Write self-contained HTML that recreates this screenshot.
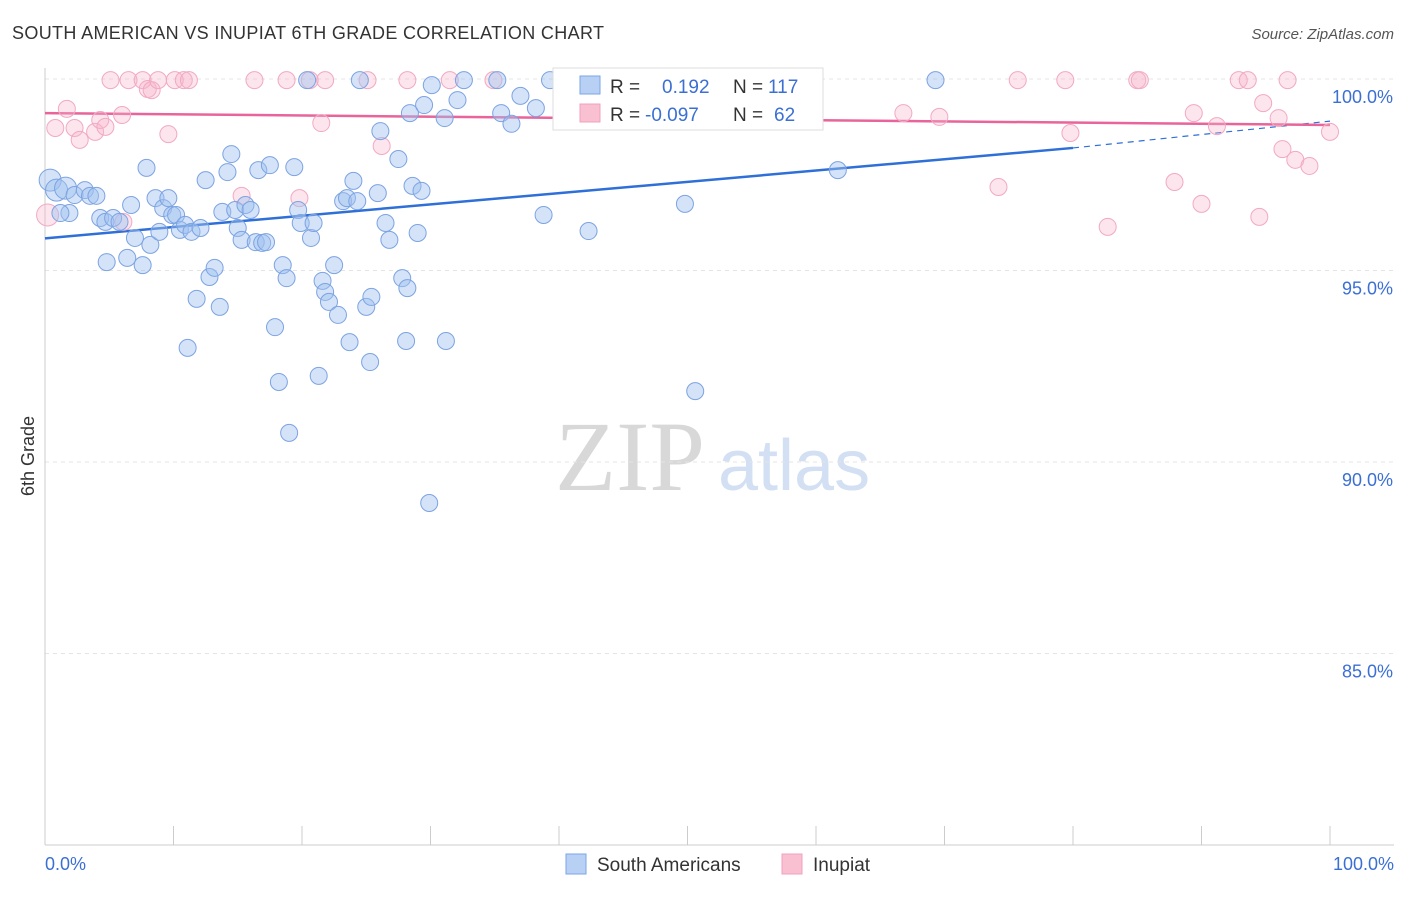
<!DOCTYPE html>
<html><head><meta charset="utf-8"><style>
body{margin:0;background:#fff;font-family:"Liberation Sans",sans-serif}
</style></head><body>
<svg id="chart" width="1406" height="892" font-family="Liberation Sans, sans-serif">
<text x="12" y="39" font-size="18" fill="#333" textLength="592">SOUTH AMERICAN VS INUPIAT 6TH GRADE CORRELATION CHART</text>
<text x="1394" y="39" font-size="15" fill="#555" font-style="italic" text-anchor="end">Source: ZipAtlas.com</text>
<text x="34" y="456" font-size="18" fill="#333" transform="rotate(-90 34 456)" text-anchor="middle">6th Grade</text>
<text x="555" y="490" font-size="100" fill="#d8d8d8" style="font-family:'Liberation Serif',serif">ZIP</text>
<text x="718" y="490" font-size="72" fill="#d3e0f3">atlas</text>
<g id="grid"></g><g id="axes"></g><g id="lines"></g><g id="pts"></g>
<g id="legend">
<rect x="553" y="68" width="270" height="62" fill="#fff" stroke="#ddd"/>
<rect x="580" y="76" width="20" height="18" fill="#b8d0f4" stroke="#7aa6e6"/>
<rect x="580" y="104" width="20" height="18" fill="#f8c0d0" stroke="#f0a0bc"/>
<text x="610" y="93" font-size="19" fill="#333">R = <tspan x="662" fill="#3b6fd4">0.192</tspan><tspan x="733" fill="#333">N = </tspan><tspan x="768" fill="#3b6fd4">117</tspan></text>
<text x="610" y="121" font-size="19" fill="#333">R = <tspan x="645" fill="#3b6fd4">-0.097</tspan><tspan x="733" fill="#333">N = </tspan><tspan x="774" fill="#3b6fd4">62</tspan></text>
</g>
<g>
<rect x="566" y="854" width="20" height="20" fill="#b8d0f4" stroke="#7aa6e6"/>
<text x="597" y="871" font-size="19" fill="#333">South Americans</text>
<rect x="782" y="854" width="20" height="20" fill="#f8c0d0" stroke="#f0a0bc"/>
<text x="813" y="871" font-size="19" fill="#333">Inupiat</text>
</g>
</svg>
<script>
const yTicks=[100,95,90,85];
const yTickLabels=["100.0%","95.0%","90.0%","85.0%"];
const xTicks=[0,10,20,30,40,50,60,70,80,90,100];
const xEndLabels=["0.0%","100.0%"];
const blueX=[0.4,0.9,1.6,1.9,2.3,3.1,3.5,4.0,4.3,4.7,4.8,5.3,5.8,6.4,6.7,7.0,7.6,7.9,8.2,8.6,8.9,9.2,9.6,9.9,10.2,10.5,10.9,11.1,11.4,11.8,12.1,12.5,12.8,13.2,13.6,13.8,14.2,14.5,14.8,15.0,15.3,15.6,16.0,16.4,16.6,16.9,17.2,17.5,17.9,18.2,18.5,18.8,19.0,19.4,19.7,19.9,20.4,20.7,20.9,21.3,21.6,21.8,22.1,22.5,22.8,23.2,23.5,23.7,24.0,24.3,24.5,25.0,25.3,25.4,25.9,26.1,26.5,26.8,27.5,27.8,28.1,28.2,28.4,28.6,29.0,29.3,29.5,29.9,30.1,31.1,31.2,32.1,32.6,35.2,35.5,36.3,37.0,38.2,38.8,39.3,42.3,49.8,50.6,61.7,69.3,1.2];
const blueY=[97.36,97.10,97.15,96.50,96.97,97.10,96.95,96.95,96.37,96.27,95.22,96.37,96.27,95.33,96.71,95.85,95.14,97.68,95.67,96.89,96.01,96.63,96.89,96.45,96.45,96.06,96.19,92.98,96.01,94.26,96.11,97.36,94.83,95.07,94.05,96.53,97.57,98.04,96.58,96.11,95.80,96.71,96.58,95.74,97.62,95.72,95.74,97.75,93.52,92.09,95.14,94.80,90.76,97.70,96.58,96.24,99.97,95.85,96.24,92.25,94.73,94.44,94.18,95.14,93.84,96.81,96.89,93.13,97.34,96.81,99.97,94.05,92.61,94.31,97.02,98.64,96.24,95.80,97.91,94.80,93.16,94.54,99.11,97.21,95.98,97.08,99.32,88.93,99.84,98.98,93.16,99.45,99.97,99.97,99.11,98.83,99.56,99.24,96.45,99.97,96.03,96.74,91.85,97.62,99.97,96.50];
const pinkX=[0.2,0.8,1.7,2.3,2.7,3.9,4.3,4.7,5.1,6.0,6.1,6.5,7.6,8.0,8.3,8.8,9.6,10.1,10.8,11.2,15.3,16.3,18.8,19.8,20.6,21.5,21.8,25.1,26.2,28.2,31.5,34.9,46.9,52.5,58.5,66.8,69.6,74.2,75.7,79.4,79.8,82.7,85.0,85.2,87.9,89.4,90.0,91.2,92.9,93.6,94.5,94.8,96.0,96.3,96.7,97.3,98.4,100];
const pinkY=[96.45,98.72,99.22,98.72,98.41,98.62,98.93,98.75,99.97,99.06,96.27,99.97,99.97,99.74,99.71,99.97,98.56,99.97,99.97,99.97,96.95,99.97,99.97,96.89,99.97,98.85,99.97,99.97,98.25,99.97,99.97,99.97,99.97,99.97,99.97,99.11,99.01,97.18,99.97,99.97,98.59,96.14,99.97,99.97,97.31,99.11,96.74,98.77,99.97,99.97,96.40,99.37,98.98,98.17,99.97,97.89,97.73,98.62];
const blueTrend=[[0,95.84],[80,98.2]];
const blueTrendExt=[[80,98.2],[100,98.9]];
const pinkTrend=[[0,99.11],[100,98.8]];
const X=v=>45+v*12.85, Y=v=>79+(100-v)*38.3;
const NS="http://www.w3.org/2000/svg";
function mk(tag,attrs,parent){const e=document.createElementNS(NS,tag);for(const k in attrs)e.setAttribute(k,attrs[k]);document.getElementById(parent).appendChild(e);return e;}
yTicks.forEach((t,i)=>{
 const l=mk('line',{x1:45,x2:1394,y1:Y(t),y2:Y(t),stroke:'#e4e4e4','stroke-dasharray':'4,4'},'grid');
 
 
 const tx=mk('text',{x:1393,y:Y(t)+24,'font-size':18,fill:'#3b6fd4','text-anchor':'end'},'grid');
 tx.textContent=yTickLabels[i];
 
 
});
const ax=mk('line',{x1:45,x2:45,y1:68,y2:845,stroke:'#ccc'},'axes');


const bx=mk('line',{x1:45,x2:1394,y1:845,y2:845,stroke:'#ccc'},'axes');


xTicks.forEach(t=>{
 const l=mk('line',{x1:X(t),x2:X(t),y1:826,y2:845,stroke:'#ccc'},'axes');
 
 
});
[[0,'start',45],[100,'end',1394]].forEach((a,i)=>{
 const tx=mk('text',{x:a[2],y:870,'font-size':18,fill:'#3b6fd4','text-anchor':a[1]},'axes');
 tx.textContent=xEndLabels[i];
 
 
});
function drawPts(xs,ys,fill,stroke,name){
 xs.forEach((x,i)=>{
  const big=(name==='south-american-point'&&i<3)||(name==='inupiat-point'&&i===0);
  const c=mk('circle',{cx:X(x),cy:Y(ys[i]),r:big?11:8.5,fill:fill,stroke:stroke,'stroke-width':1},'pts');
  
  
 });
}
drawPts(pinkX,pinkY,'rgba(246,180,202,0.35)','#f2a9c3','inupiat-point');
drawPts(blueX,blueY,'rgba(160,192,240,0.45)','#7ca3e2','south-american-point');
function line(seg,color,dash,name){
 const l=mk('line',{x1:X(seg[0][0]),y1:Y(seg[0][1]),x2:X(seg[1][0]),y2:Y(seg[1][1]),stroke:color,'stroke-width':dash?1.2:2.5},'lines');
 if(dash)l.setAttribute('stroke-dasharray','6,5');
 
 
}
line(blueTrend,'#2f6fd8',false,'south-american-trendline');
line(blueTrendExt,'#2f6fd8',true,'south-american-trendline-extension');
line(pinkTrend,'#e8649a',false,'inupiat-trendline');
document.getElementById('chart').appendChild(document.getElementById('legend'));
</script>
</body></html>
